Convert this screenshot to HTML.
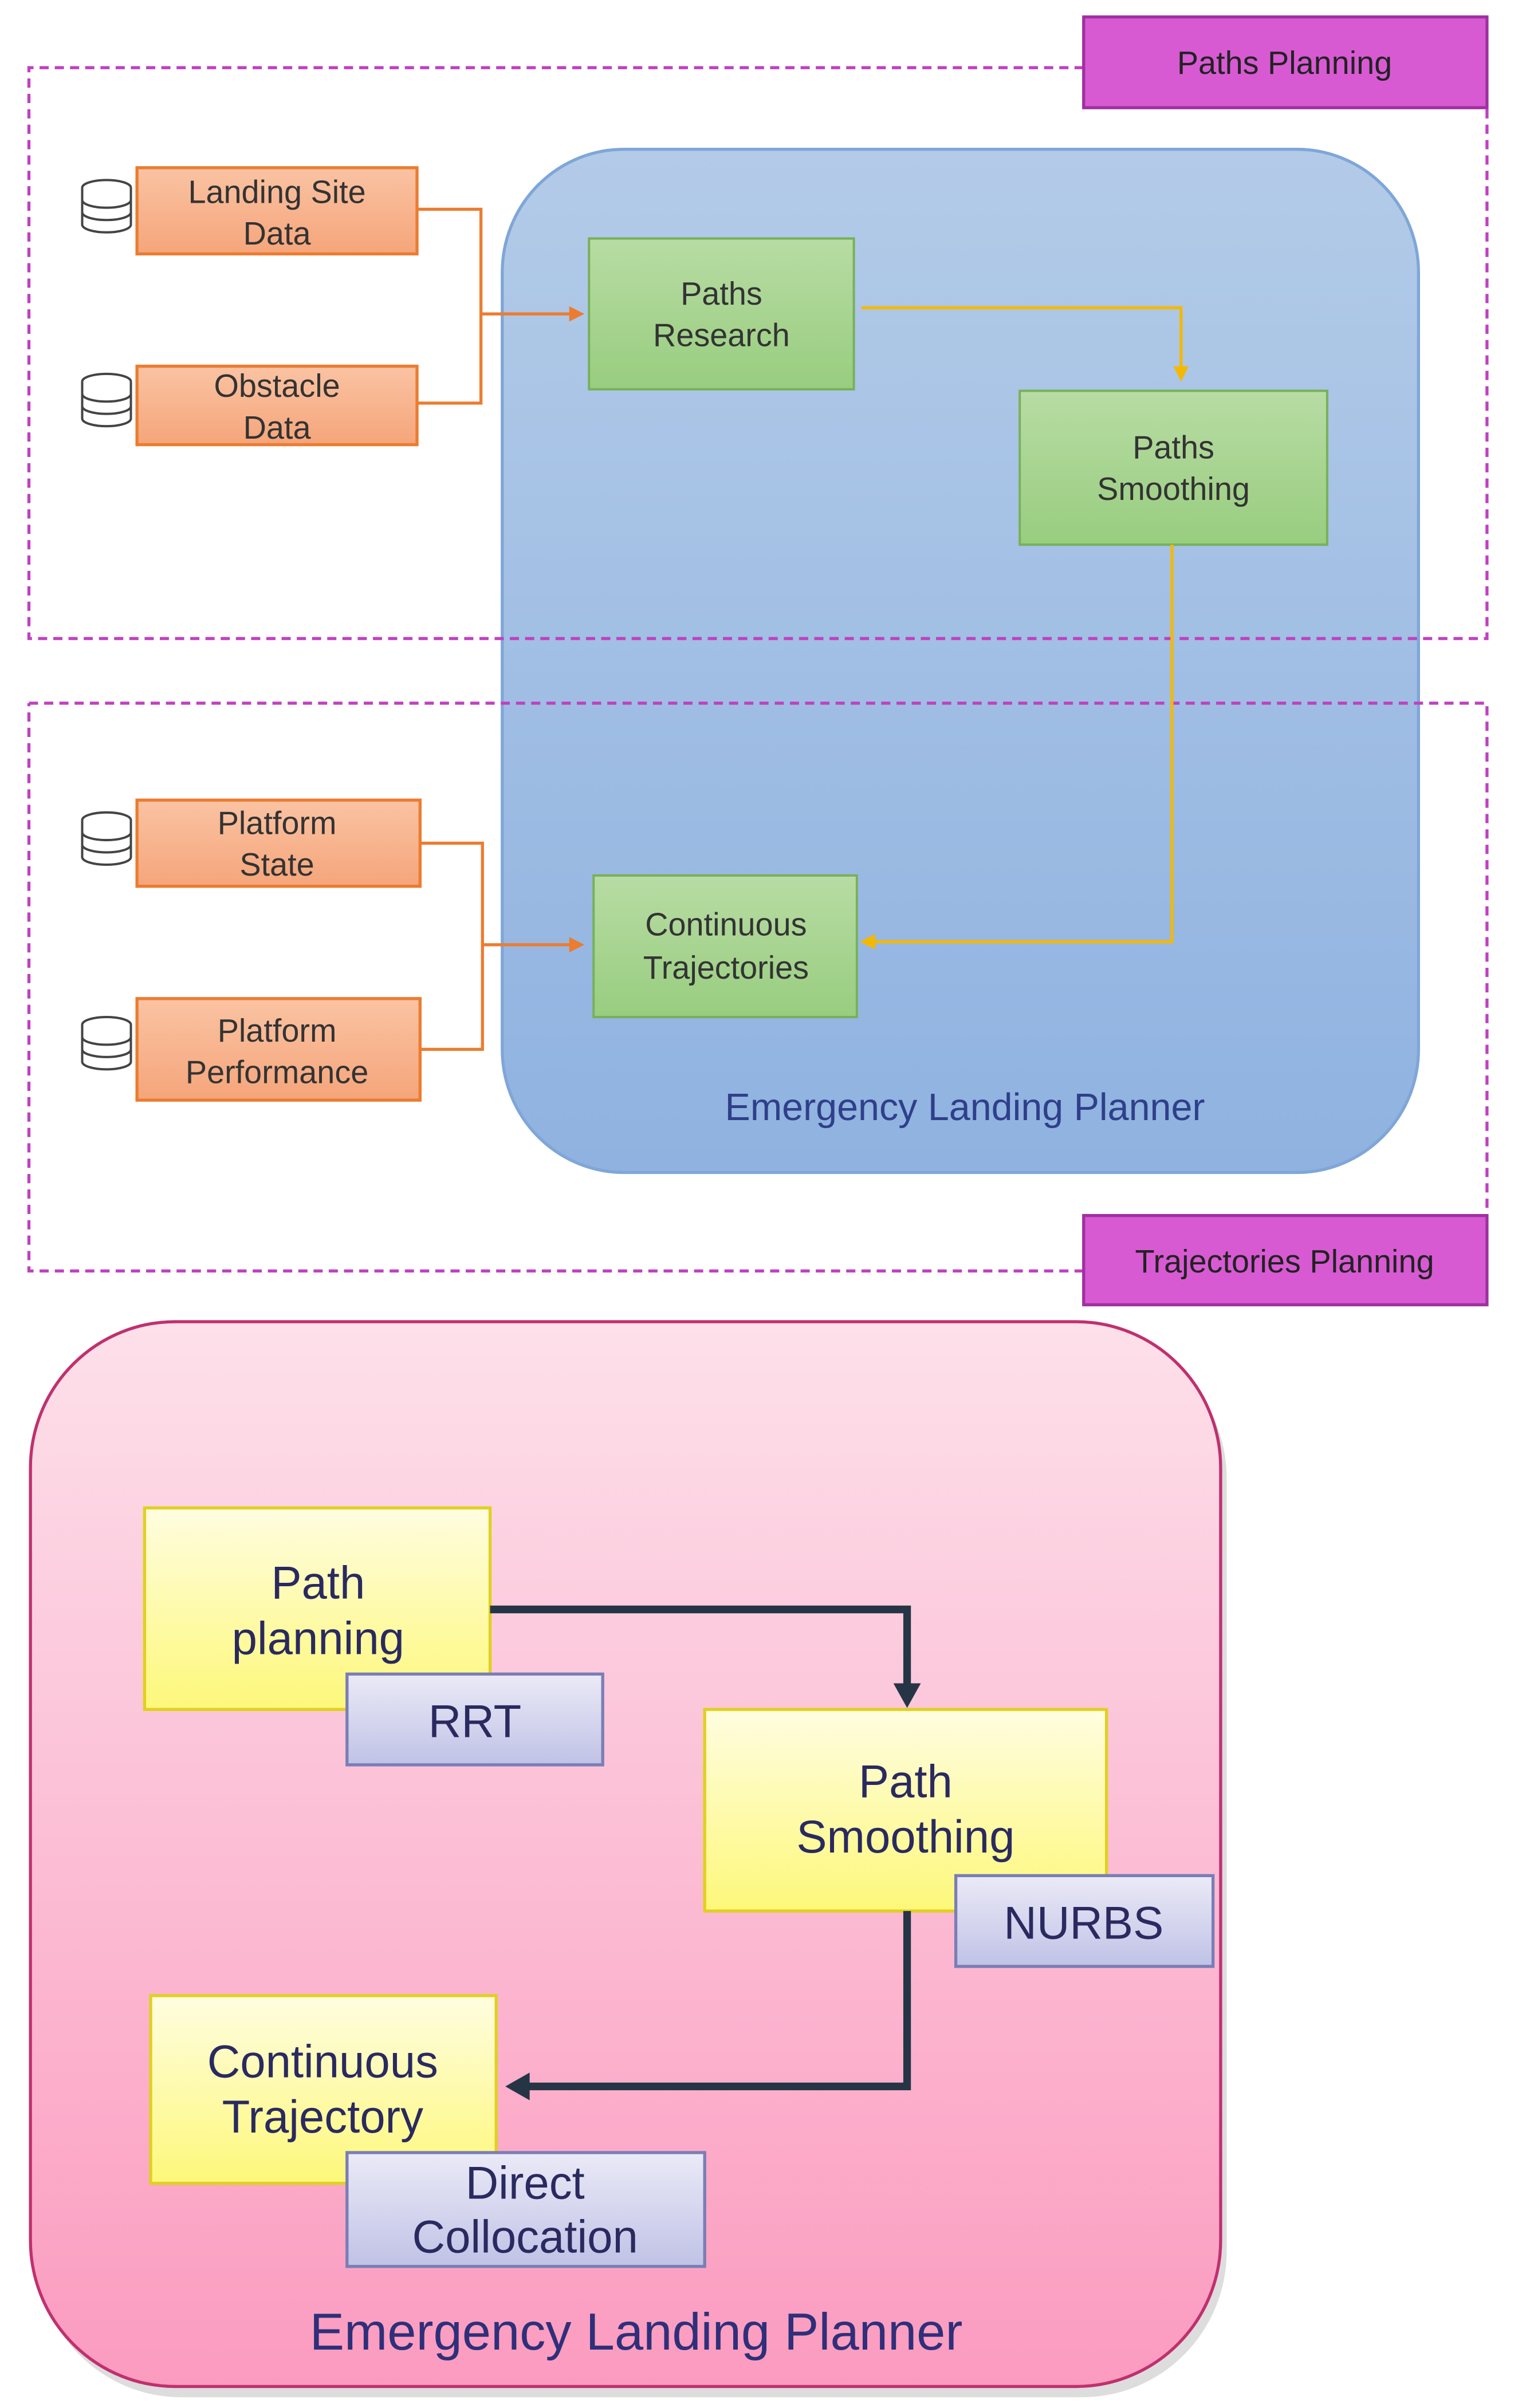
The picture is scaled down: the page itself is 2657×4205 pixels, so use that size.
<!DOCTYPE html>
<html><head><meta charset="utf-8"><style>
html,body{margin:0;padding:0;background:#fff;}
svg{display:block;}
text{font-family:"Liberation Sans",sans-serif;}
</style></head><body>
<svg width="2657" height="4205" viewBox="0 0 1000 1565" preserveAspectRatio="none" xmlns="http://www.w3.org/2000/svg">
<defs>
<linearGradient id="blue" x1="0" y1="0" x2="0" y2="1"><stop offset="0" stop-color="#b3cbe8"/><stop offset="1" stop-color="#8fb2e0"/></linearGradient>
<linearGradient id="org" x1="0" y1="0" x2="0" y2="1"><stop offset="0" stop-color="#fac3a3"/><stop offset="1" stop-color="#f5a57a"/></linearGradient>
<linearGradient id="grn" x1="0" y1="0" x2="0" y2="1"><stop offset="0" stop-color="#b8dca4"/><stop offset="1" stop-color="#98cd7f"/></linearGradient>
<linearGradient id="pink" x1="0" y1="0" x2="0" y2="1"><stop offset="0" stop-color="#fde0ea"/><stop offset="1" stop-color="#fb9bbf"/></linearGradient>
<linearGradient id="yel" x1="0" y1="0" x2="0" y2="1"><stop offset="0" stop-color="#fffde0"/><stop offset="1" stop-color="#fdf87a"/></linearGradient>
<linearGradient id="lav" x1="0" y1="0" x2="0" y2="1"><stop offset="0" stop-color="#ebeaf7"/><stop offset="1" stop-color="#c0c2e6"/></linearGradient>
<g id="db" fill="#fff" stroke="#444" stroke-width="1.5">
<ellipse cx="0" cy="0" rx="16" ry="5"/>
<path d="M-16 0v24a16 5 0 0 0 32 0V0"/>
<path d="M-16 8a16 5 0 0 0 32 0M-16 16a16 5 0 0 0 32 0" fill="none"/>
</g>
</defs>
<!-- blue planner -->
<rect x="330" y="97" width="602" height="665" rx="80" fill="url(#blue)" stroke="#7fa6d8" stroke-width="2"/>
<text x="634" y="728" font-size="25" fill="#2f3f8a" text-anchor="middle">Emergency Landing Planner</text>
<!-- dashed frames -->
<path d="M712 44H19V415H977V70" fill="none" stroke="#c040c0" stroke-width="2" stroke-dasharray="6,4"/>
<path d="M19 457H977V790M712 826H19V457" fill="none" stroke="#c040c0" stroke-width="2" stroke-dasharray="6,4"/>
<rect x="712" y="11" width="265" height="59" fill="#d75ad3" stroke="#a030a0" stroke-width="2"/>
<text x="844" y="48" font-size="21" text-anchor="middle" fill="#222">Paths Planning</text>
<rect x="712" y="790" width="265" height="58" fill="#d75ad3" stroke="#a030a0" stroke-width="2"/>
<text x="844" y="827" font-size="21" text-anchor="middle" fill="#222">Trajectories Planning</text>
<!-- orange data -->
<g stroke="#ec7c30" stroke-width="2">
<rect x="90" y="109" width="184" height="56" fill="url(#org)"/>
<rect x="90" y="238" width="184" height="51" fill="url(#org)"/>
<rect x="90" y="520" width="186" height="56" fill="url(#org)"/>
<rect x="90" y="649" width="186" height="66" fill="url(#org)"/>
<path d="M274 136H316V262H274M316 204H378" fill="none"/>
<path d="M276 548H317V682H276M317 614H378" fill="none"/>
</g>
<path d="M384 204l-10-5v10z" fill="#ec7c30"/>
<path d="M384 614l-10-5v10z" fill="#ec7c30"/>
<g font-size="21" fill="#333" text-anchor="middle">
<text x="182" y="132">Landing Site</text><text x="182" y="159">Data</text>
<text x="182" y="258">Obstacle</text><text x="182" y="285">Data</text>
<text x="182" y="542">Platform</text><text x="182" y="569">State</text>
<text x="182" y="677">Platform</text><text x="182" y="704">Performance</text>
</g>
<use href="#db" x="70" y="122"/><use href="#db" x="70" y="248"/>
<use href="#db" x="70" y="533"/><use href="#db" x="70" y="666"/>
<!-- green -->
<g stroke="#78b05a" stroke-width="1.5" fill="url(#grn)">
<rect x="387" y="155" width="174" height="98"/>
<rect x="670" y="254" width="202" height="100"/>
<rect x="390" y="569" width="173" height="92"/>
</g>
<path d="M566 200H776V240M770 354V612H572" fill="none" stroke="#f5b800" stroke-width="2"/>
<path d="M776 248l-5-10h10z M565 612l10-5v10z" fill="#f5b800"/>
<g font-size="21" fill="#333" text-anchor="middle">
<text x="474" y="198">Paths</text><text x="474" y="225">Research</text>
<text x="771" y="298">Paths</text><text x="771" y="325">Smoothing</text>
<text x="477" y="608">Continuous</text><text x="477" y="636">Trajectories</text>
</g>
<!-- pink planner -->
<rect x="24" y="866" width="782" height="692" rx="95" fill="#aaa" opacity="0.4"/>
<rect x="20" y="859" width="782" height="692" rx="95" fill="url(#pink)" stroke="#c0306f" stroke-width="2"/>
<text x="418" y="1527" font-size="34" fill="#2f2f7a" text-anchor="middle">Emergency Landing Planner</text>
<g stroke="#e0d020" stroke-width="2" fill="url(#yel)">
<rect x="95" y="980" width="227" height="131"/>
<rect x="463" y="1111" width="264" height="131"/>
<rect x="99" y="1297" width="227" height="122"/>
</g>
<g stroke="#7a7eb5" stroke-width="2" fill="url(#lav)">
<rect x="228" y="1088" width="168" height="59"/>
<rect x="628" y="1219" width="169" height="59"/>
<rect x="228" y="1399" width="235" height="74"/>
</g>
<path d="M322 1046H596V1098M596 1242V1356H345" fill="none" stroke="#263545" stroke-width="5"/>
<path d="M596 1110l-9-16h18z M332 1356l16-9v18z" fill="#263545"/>
<g font-size="30" fill="#2a2a60" text-anchor="middle">
<text x="209" y="1039">Path</text><text x="209" y="1075">planning</text>
<text x="595" y="1168">Path</text><text x="595" y="1204">Smoothing</text>
<text x="212" y="1350">Continuous</text><text x="212" y="1386">Trajectory</text>
<text x="312" y="1129">RRT</text>
<text x="712" y="1260">NURBS</text>
<text x="345" y="1429">Direct</text><text x="345" y="1464">Collocation</text>
</g>
</svg>
</body></html>
